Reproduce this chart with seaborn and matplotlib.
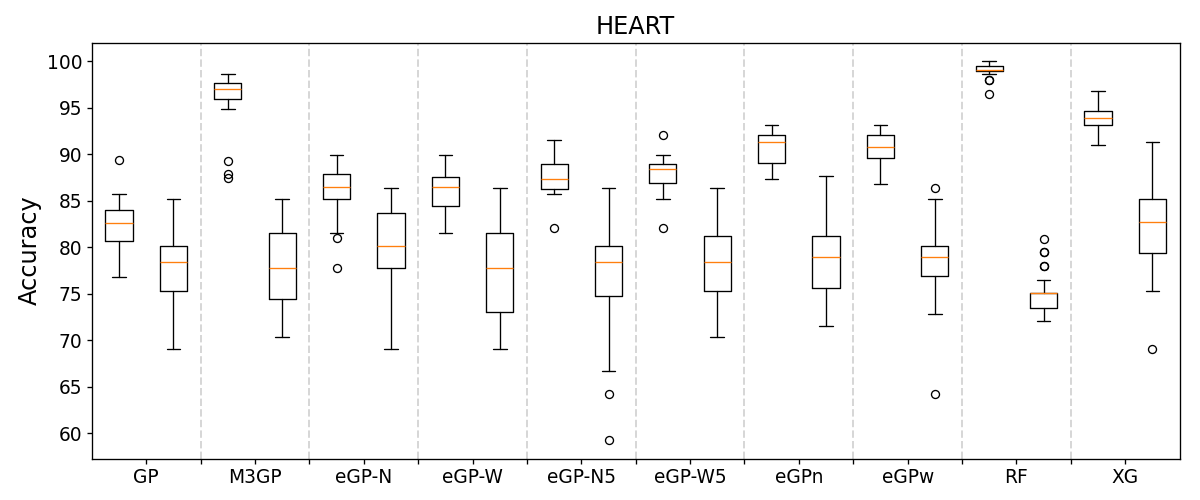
import numpy as np
import matplotlib
matplotlib.use("Agg")
import matplotlib.pyplot as plt
import seaborn as sns

# Methods on the x axis (each has a train box and a test box)
methods = ['GP', 'M3GP', 'eGP-N', 'eGP-W', 'eGP-N5', 'eGP-W5', 'eGPn', 'eGPw', 'RF', 'XG']

# Box statistics, train boxes
train_med = [82.6, 97.0, 86.5, 86.5, 87.4, 88.4, 91.3, 90.8, 99.1, 93.9]
train_q1 = [80.7, 96.0, 85.2, 84.5, 86.3, 86.9, 89.1, 89.6, 99.0, 93.2]
train_q3 = [84.0, 97.7, 87.9, 87.6, 89.0, 89.0, 92.1, 92.1, 99.5, 94.7]
train_lo = [76.8, 94.9, 81.5, 81.5, 85.7, 85.2, 87.4, 86.8, 98.6, 91.0]
train_hi = [85.7, 98.7, 89.9, 89.9, 91.6, 89.9, 93.2, 93.2, 100.0, 96.8]
train_fliers = [[89.4], [89.3, 87.9, 87.5], [81.0, 77.8], [], [82.1],
                [92.1, 82.1], [], [], [98.0, 98.0, 96.5], []]

# test boxes
test_med = [78.4, 77.8, 80.2, 77.8, 78.4, 78.4, 79.0, 79.0, 75.1, 82.7]
test_q1 = [75.3, 74.5, 77.8, 73.1, 74.8, 75.3, 75.6, 76.9, 73.5, 79.4]
test_q3 = [80.2, 81.5, 83.7, 81.5, 80.2, 81.2, 81.2, 80.2, 75.1, 85.2]
test_lo = [69.1, 70.4, 69.1, 69.1, 66.7, 70.4, 71.6, 72.8, 72.1, 75.3]
test_hi = [85.2, 85.2, 86.4, 86.4, 86.4, 86.4, 87.7, 85.2, 76.5, 91.3]
test_fliers = [[], [], [], [], [64.2, 59.3], [], [], [86.4, 64.2],
               [80.9, 79.5, 79.5, 78.0, 78.0], [69.1]]

stats = []
for i in range(len(methods)):
    stats.append(dict(med=train_med[i], q1=train_q1[i], q3=train_q3[i],
                      whislo=train_lo[i], whishi=train_hi[i],
                      fliers=train_fliers[i]))
    stats.append(dict(med=test_med[i], q1=test_q1[i], q3=test_q3[i],
                      whislo=test_lo[i], whishi=test_hi[i],
                      fliers=test_fliers[i]))

sns.set_theme(style="ticks", rc={
    "axes.edgecolor": "black", "axes.labelcolor": "black",
    "xtick.color": "black", "ytick.color": "black", "text.color": "black",
    "axes.linewidth": 1.0, "xtick.major.width": 1.0, "ytick.major.width": 1.0,
    "xtick.minor.width": 1.0, "xtick.major.size": 3.5, "xtick.minor.size": 3.5,
    "ytick.major.size": 3.5,
})
plt.rcParams['font.family'] = ['DejaVu Sans']

fig, ax = plt.subplots(figsize=(12.5, 500 / 96), dpi=96)

n = len(methods)
positions = np.arange(1, 2 * n + 1)
ax.bxp(stats, positions=positions, widths=0.5,
       boxprops={'color': 'black', 'linewidth': 1},
       whiskerprops={'color': 'black', 'linewidth': 1},
       capprops={'color': 'black', 'linewidth': 1},
       medianprops={'color': sns.color_palette('tab10')[1], 'linewidth': 1},
       flierprops={'marker': 'o', 'markerfacecolor': 'none',
                   'markeredgecolor': 'black', 'markersize': 6})

# labels between each train/test pair, dashed separators on minor ticks
ax.set_xticks(np.arange(n) * 2 + 1.5)
ax.set_xticklabels(methods)
ax.set_xticks(np.arange(1, n) * 2 + 0.5, minor=True)
ax.grid(which='minor', axis='x', color='lightgray', linestyle='--',
        linewidth=1.5, alpha=0.9)
ax.set_axisbelow(True)

ax.set_xlim(0.5, 2 * n + 0.5)
ax.set_ylim(57.3, 102.04)
ax.set_title('HEART', fontsize=18)
ax.set_ylabel('Accuracy', fontsize=18)
ax.tick_params(labelsize=14)

fig.subplots_adjust(left=0.0765, right=0.983, top=0.915, bottom=0.083)
plt.savefig('out.png', dpi=96)
